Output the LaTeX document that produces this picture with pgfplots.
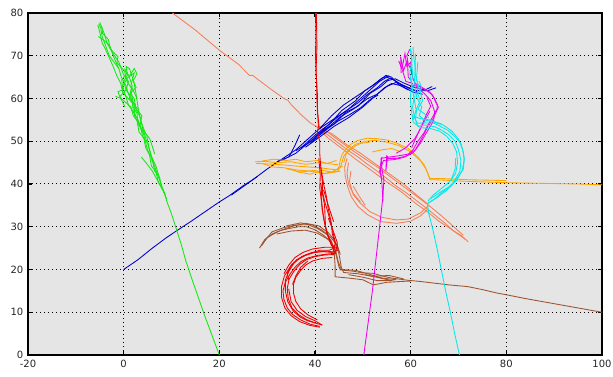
\documentclass[border=0pt]{standalone}
\usepackage{pgfplots}
\pgfplotsset{compat=1.18}
\usepackage{fontspec}
\setmainfont{DejaVu Sans}
\definecolor{cgreen}{RGB}{20,232,20}
\definecolor{cblue}{RGB}{0,0,210}
\definecolor{csalmon}{RGB}{245,128,88}
\definecolor{cred}{RGB}{240,0,0}
\definecolor{cbrown}{RGB}{160,82,45}
\definecolor{cmag}{RGB}{240,0,240}
\definecolor{ccyan}{RGB}{0,235,235}
\definecolor{corange}{RGB}{255,165,0}
\definecolor{bg}{RGB}{229,229,229}
\begin{document}
\begin{tikzpicture}
\begin{axis}[
  scale only axis, width=430.5pt, height=256.5pt,
  xmin=-20, xmax=100, ymin=0, ymax=80,
  xtick={-20,0,...,100}, ytick={0,10,...,80},
  grid=major, major grid style={dash pattern=on 0.75pt off 2.25pt, black, line width=0.75pt},
  axis background/.style={fill=bg},
  axis line style={line width=1.3pt, black},
  tick style={black, line width=1pt}, major tick length=3pt, tick align=inside,
  ticklabel style={font=\fontsize{7.5}{8}\selectfont, text=black!85},
  /pgf/number format/assume math mode=true,
  every axis plot/.append style={line width=0.65pt, no marks},
]
\coordinate (bl) at (rel axis cs:0,0);
\coordinate (tr) at (rel axis cs:1,1);
% brown
\addplot[cbrown] coordinates {(28.4,25) (29.5,27) (31.2,28.4) (33,29.2) (34.7,29.6) (36.5,30) (38.2,30) (40,29.3) (41.8,28) (43,26.8) (43.9,25.3) (44.5,23) (45,20.7) (45.3,19.9) (48,19.6) (50,19.2) (52.2,19.1) (54,18.5) (56,18) (59.3,17.5) (62,17.2) (65,16.8) (68,16.4) (71.9,16) (75,15.3) (78,14.5) (80.4,14) (84,13.2) (88,12.4) (92,11.6) (96,10.8) (100,10)};
\addplot[cbrown] coordinates {(29,26) (31,28.8) (33.5,29.8) (36,30.4) (38.5,30.5) (40.5,29.6) (42.5,28.2) (43.5,26.5) (44,24) (44.2,21) (44.2,18.3) (47,18) (50,17.6) (52.2,16.4) (55,17) (58,17.2) (60,17.3)};
\addplot[cbrown] coordinates {(32,28.3) (35,29) (38,29.2) (40.5,28.5) (42.8,27) (44.2,25) (44.8,22) (45.5,20) (48.5,19.8) (51,19) (54,18) (57,17.6)};
\addplot[cbrown] coordinates {(34,30.2) (37,30.9) (39.5,30.4) (41.5,29.2) (43.2,27.6) (44.6,25.8) (45.3,23.5)};
\addplot[cbrown] coordinates {(28.8,25.5) (30,27.5) (32.5,29) (35.5,30.2) (38,30.8) (40.8,30.2) (42.8,28.6) (44,27) (44.8,24.8) (45.2,22.5) (45.5,20.5) (46,19.3) (49,19) (52,18.4) (55.5,18.6) (58.5,17.8)};
\addplot[cbrown] coordinates {(47,18.8) (50,18.2) (53,17.4) (56,17.4) (50.5,18.8) (54,17.9)};
% salmon
\addplot[csalmon] coordinates {(10.2,80) (15,76) (20,71.3) (24,68) (26.3,65.4) (27,65.4) (28,64.5) (31,62) (33.5,60) (34.3,59.6) (35,58.6) (37,56.3) (39,54.3) (41,53) (43,51.2) (45,49.5) (47,47.8) (49,46.3) (51,44.6) (53,43) (55,41.3) (57,39.5) (59,38) (61,36.3) (63,34.6) (65,32.8) (67,31) (69,29) (70.5,28) (72,26.5)};
\addplot[csalmon] coordinates {(41,53.5) (44,51) (47,48.5) (50,46.2) (53,44) (56,41.5) (59,39) (62,36.5) (64,34.8) (66.5,32.5) (68.5,30.5) (71,28)};
\addplot[csalmon] coordinates {(41,52.5) (43,50.5) (46,48) (48.5,45.8) (52,43) (55,40.5) (58,38.2) (61,35.5) (63.5,33.5) (66,31.2) (68,29.8) (70,28.2) (71.5,27)};
\addplot[csalmon] coordinates {(40.5,53.2) (43.5,51.8) (46.5,49.3) (49.5,47.2) (52.5,44.8) (55.5,42.4) (58.5,40) (61.5,37.2) (63.5,35.4)};
\addplot[csalmon] coordinates {(46.7,46) (46.2,44) (46.3,42) (46.8,39.5) (47.6,37) (49,34.7) (51,32.8) (53.7,31.2) (57,30.8) (60,31.3) (62,32.5) (63.5,34)};
\addplot[csalmon] coordinates {(47.5,43) (47.2,40.5) (48,37.5) (49.5,35.5) (51.5,33.5) (54,32.2) (57,31.6) (59.5,31.8) (62,33.2) (63.8,35)};
\addplot[csalmon] coordinates {(48,39.5) (49.2,37.2) (50.5,35)};
\addplot[csalmon] coordinates {(47,45) (46.7,42.5) (47,40) (48,37.8) (49.5,35.8)};
% blue
\addplot[cblue] coordinates {(0,20) (3,22.3) (6,25) (9,27.5) (11,29) (14,31.2) (17,33.5) (20,35.8) (22,37.2) (25,39.6) (27,41) (30,43.5) (32,45) (34,46.5) (36,48) (38,50) (40,52) (41,53) (43,54.5) (45,56) (47,57.5) (49,59) (51,61) (53,62.5) (54.5,64) (55.8,64.8) (57,64) (58.5,63) (60.4,62) (62,61.8) (63.5,61.8) (65.3,62.5)};
\addplot[cblue] coordinates {(22.5,37.4) (25.5,39.8) (28,41.8)};
\addplot[cblue] coordinates {(33,45.5) (36,47.2) (39,50) (41,52) (44,55) (47,57.5) (50,60.5) (52,62.5) (53.5,64) (55,65) (56.5,64.3) (58,63.2) (60,62.4) (61.5,61.5)};
\addplot[cblue] coordinates {(38,48.6) (41,51) (44,53.5) (47,55.5) (50,58) (52.5,60.5) (54.5,62.5) (56,63.5) (58,63) (60.5,61.5) (62.5,61)};
\addplot[cblue] coordinates {(34.5,46.2) (35.8,49) (36.8,51.5)};
\addplot[cblue] coordinates {(41,53) (43.5,56) (46,58.5) (48,60) (50,61.5) (52,63) (54,64.8) (55.5,65.3)};
\addplot[cblue] coordinates {(40,51) (42.5,53) (45.3,55.7) (48,57.5) (51,60) (53,61) (55,62.8) (57,63.8) (59,62.8)};
\addplot[cblue] coordinates {(31,44.3) (32.6,45.6) (34,46)};
\addplot[cblue] coordinates {(36,47.8) (39,49.8) (42,52.8) (44,54) (46.5,56.8) (49,58.2) (51.5,61.2) (53.8,62.8) (55.2,64.2) (56.8,64.6) (58.6,63.6) (60.8,62.6) (63,62) (64.5,62.8)};
\addplot[cblue] coordinates {(37,48.4) (40.2,51.6) (43.2,54.2) (45.6,57.2) (48.4,59.4) (50.4,61.8) (52.8,63.6) (54.8,65.4) (56,65) (57.5,63.2) (59.5,62)};
\addplot[cblue] coordinates {(39,49.5) (41.8,52.2) (44.5,54.5) (47.2,56.2) (49.5,57.8) (51.8,60) (53.2,60.8)};
% orange
\addplot[corange] coordinates {(100.4,39.8) (95,40) (90,40.1) (85,40.2) (80,40.3) (75,40.5) (70,40.7) (67,40.9) (65,41) (64,41) (63.6,42.5) (62.8,44.5) (61.5,46.3) (59.5,48.3) (57,49.6) (55,50.3) (53,50.6) (50.9,50.7) (49,50.2) (47.5,49.3) (46.5,48.2) (45.7,47) (45.3,45.6) (45,44) (44.6,43.3) (43,43.5) (41,43.8) (38.5,44) (36,44.2) (33,44.5) (30,44.7) (27.7,44.8)};
\addplot[corange] coordinates {(80,40.8) (72,41) (66,41.3) (64,41.3) (63.2,43.5) (62,45.5) (60,47.5) (57.5,49) (55,49.8) (52.5,50.2) (50.5,50) (48.5,49.3) (47,48) (46,46.5) (45.5,44.5) (44.8,43) (42,42.5) (39,43) (36,43.3) (33.5,43.8) (31,44) (29,44.8)};
\addplot[corange] coordinates {(44.8,44.5) (41,45) (38,44.6) (35,45.2) (32,45) (29.5,45.3) (27.5,45.2)};
\addplot[corange] coordinates {(45.3,43) (42,42.4) (40,43.2) (37,42.8) (34,43.6)};
\addplot[corange] coordinates {(52,47.5) (54,48) (56,48.3) (58,47.5)};
\addplot[corange] coordinates {(44.5,45.5) (42.5,44.8) (40.5,45.5) (38,45.2) (36,45.8) (34,45.5) (31.5,45.8) (29,45.4)};
\addplot[corange] coordinates {(45.8,44.2) (43.5,42.8) (41.5,43.2) (39,42.3) (36.5,42.8) (35,43.5)};
\addplot[corange] coordinates {(46,45) (46.5,47) (47.8,48.5) (49.5,49.5) (51.5,49.8)};
% magenta
\addplot[cmag] coordinates {(50.2,0) (50.8,5) (51.4,10) (52,15) (52.5,20) (53,25) (53.5,30) (53.8,33) (54.2,37) (54.4,41) (54,43.5) (53.8,46) (55.5,46.3) (57.5,46.6) (59.5,47) (60.5,48) (61.5,50) (62.8,52) (63.7,54) (64.5,55.5) (65.5,57.5) (65.6,58.5) (65,60) (64,61.5) (62.5,62.5) (61,63.5) (60.5,64.5) (60.2,66.5) (59.5,68) (59.2,70) (59.8,71.5)};
\addplot[cmag] coordinates {(54,41) (53.5,43) (54.3,45.5) (56.5,45.7) (58.5,46.2) (60.5,47.3) (62,49.5) (63.3,52) (64.8,54.8) (65,57) (64.2,59.5) (63,61) (61.5,62.5) (60.7,63.5)};
\addplot[cmag] coordinates {(58,66) (57.9,69.8) (58.5,66.5) (59.3,69) (59.5,65) (60,64.3)};
\addplot[cmag] coordinates {(54.2,36) (54,40) (53.6,44) (54,46.3)};
\addplot[cmag] coordinates {(55,46.8) (54.8,43) (55.2,46.5)};
\addplot[cmag] coordinates {(60.5,63.5) (59,64) (58.3,66.5) (57.5,68.8) (58.2,67) (58.8,70.5) (59.2,67.5) (60,68.5) (60.2,65.5)};
\addplot[cmag] coordinates {(55,46) (57,46) (59,46.5) (61,48) (62.5,51) (63.6,53.5) (64.6,55) (65.2,56.5) (65.8,58) (65.2,59.2) (64.6,60.8) (63.2,62) (61.8,62.8) (60.2,63.2)};
\addplot[cmag] coordinates {(60.2,48.5) (61.2,51) (62.2,53.5) (63.4,56.5) (64.2,58.2) (63.4,60.2)};
\addplot[cmag] coordinates {(57,47.2) (59,48.5) (60.8,50.5) (62,52.8) (63,55) (64,57)};
% cyan
\addplot[ccyan] coordinates {(70.2,0) (69.2,5) (68.3,10) (67.3,15) (66.4,20) (65.5,25) (64.5,30) (63.8,33) (63.5,35.4) (65,36.5) (66.5,38) (68.4,39.4) (69.8,41.5) (71,43.5) (71.2,45.5) (71,47.5) (70.5,49.5) (69.3,51) (67.7,52.6) (66,53.6) (64.9,54.2) (63,54.3) (61.4,54.2) (60.8,55.5) (60.4,58) (60.7,60) (60.4,62) (60.2,64) (60.4,66) (60.2,68.5) (60,71.3)};
\addplot[ccyan] coordinates {(63.5,35.4) (65.5,36.8) (67.5,38.5) (69,40.5) (70.3,43) (70.5,45.5) (70,48) (69.3,50) (68,51.5) (66.5,52.6) (65,53.4) (63,53.8) (61.5,53.5) (61,55) (61.2,57) (60.8,59.5) (61,62) (60.8,64.5) (61,67) (60.6,70) (60.5,72)};
\addplot[ccyan] coordinates {(68.5,41) (69.3,43.5) (69.4,46)};
\addplot[ccyan] coordinates {(60.5,55) (61.2,57.5) (62,59.5) (61.5,61) (62.3,62.5) (61.8,64)};
\addplot[ccyan] coordinates {(60.3,56) (62,55.3) (64,55) (66.5,54)};
\addplot[ccyan] coordinates {(60,71.8) (60.3,69) (59.8,66) (60.2,63) (59.9,60) (60.2,57) (60.5,54.5) (62,53.2) (64,53) (66,52.4) (67.5,51.2) (68.8,49.5) (69.6,47.5) (69.8,45) (69.4,42.5) (68.2,40.6) (66.5,39) (64.8,37.5) (63.6,36)};
\addplot[ccyan] coordinates {(61,70.5) (60.9,66) (61.6,63) (61.2,60.5) (62.3,58) (61.8,56) (62.8,55) (64.5,54.6) (66.8,53.8) (68.6,52.4) (70,50.5) (70.8,48.2) (71.2,46) (70.8,43.2) (69.6,40.8) (67.8,39.2) (65.8,37.8) (64.2,36.6)};
\addplot[ccyan] coordinates {(61.5,68.5) (61.2,64.5) (62,61.5) (62.5,59.5) (61.5,57.5) (62.8,56.5) (63.8,55.5)};
% red
\addplot[cred] coordinates {(40.1,80) (40.2,75) (40.1,70) (40.3,65) (40.4,60) (40.6,56) (40.7,53.5) (40.5,52) (41,50) (41,47) (41.2,44) (41.5,41) (41.6,38) (42,36) (42.8,33) (43.5,30) (44,27.5) (44.5,25) (44.3,23.8) (42.5,23.6) (40.5,23.3) (38.5,22.7) (37,21.8) (35.8,20.5) (34.7,18.8) (33.8,17) (33.3,15) (33.5,13) (34.2,11) (35.3,9.5) (37,8.2) (39,7.2) (41,6.7)};
\addplot[cred] coordinates {(40.3,80) (40.4,72) (40.2,66) (40.5,61) (40.5,57) (40.9,53)};
\addplot[cred] coordinates {(41.6,41) (41.3,37) (41.5,34) (42,31) (42.5,28.5) (43.3,26.5) (44,25) (43,24.5) (41,24.5) (39,23.8) (37.2,23) (35.6,21.5) (34.5,19.5) (33.8,17.5) (33.8,15) (34.3,12.5) (35.5,10.2) (37,8.8) (38.5,8) (40,7.5)};
\addplot[cred] coordinates {(41.8,38.6) (42.5,36) (43.2,33.5) (43.9,31.2)};
\addplot[cred] coordinates {(42.8,32) (43.8,29) (44.6,26.5) (44.8,24.5) (43.5,24) (41.5,24.2) (39.5,24) (37.8,23.3) (36.2,22.3) (35,21) (34.2,19) (34.5,17.5)};
\addplot[cred] coordinates {(38.5,22) (37,20.5) (36,18.5) (35.3,16.5)};
\addplot[cred] coordinates {(34.5,15.5) (35,12.5) (36.2,10.5) (38,9) (40,8) (41.5,7)};
\addplot[cred] coordinates {(41.2,40) (42,35) (42.2,30) (43,27) (43.8,24.8)};
\addplot[cred] coordinates {(44.3,24) (42.5,24.3) (40,24) (38,23.3) (36.2,22.2) (34.8,20.6) (33.6,18.5) (33,16) (33,13.5) (33.7,11) (35,9.2) (36.8,7.8) (39,6.9) (41,6.5)};
\addplot[cred] coordinates {(44,23.5) (42,23.4) (40,23) (38.2,22.3) (36.8,21.2) (35.6,19.6) (34.6,17.8) (34.2,15.6) (34.4,13.2) (35.2,11) (36.5,9.5) (38.2,8.3) (40,7.5) (41.5,7)};
\addplot[cred] coordinates {(43.6,22.8) (41.5,22.6) (39.5,22) (38,21) (37,19.8) (36,18.2) (35.5,16.5) (35.5,14.5) (36,12.5) (37,10.8) (38.5,9.4) (40.5,8.2)};
\addplot[cred] coordinates {(44.5,25.2) (42,25.2) (39.5,24.8) (37.5,24) (35.8,22.8) (34.5,21) (33.5,19)};
\addplot[cred] coordinates {(41.2,44) (41.8,40) (42.4,37) (42.8,34) (43.4,31) (43.6,28.5) (44.2,26) (43.8,24.2)};
\addplot[cred] coordinates {(40.8,46) (41.1,42) (41,39) (41.4,35.5) (41.8,32) (42.3,29.5) (42.8,27.5) (43.5,25.5)};
% green
\addplot[cgreen] coordinates {(20,0) (17,9) (14.5,17) (13,22) (12,26) (11,29.5) (10,33) (9,36) (8.5,38) (7.8,40) (7,42.5) (6.2,45) (5.5,47.5) (5,49.5) (4,51) (3.6,53) (3,55) (2,57) (1.8,59.5) (1,61) (0.5,63) (-0.5,65) (-1,67) (-2,69.5) (-2.5,71) (-3.5,73) (-4,75) (-5,77.8)};
\addplot[cgreen] coordinates {(8.7,37.5) (8,39) (7.5,41.5) (6.5,43) (6,45.5) (5,48) (4.5,50) (4,52.5) (3,54) (2.8,56.5) (2,58) (1.5,60.5) (0.5,62) (1,64) (0,65.5) (-0.5,67) (-1,68.5) (-2.2,70.5) (-3,72.5) (-4,73.5) (-5.3,74.5)};
\addplot[cgreen] coordinates {(3.7,46.3) (5,44.5) (6,43) (7,41) (7.8,39.5)};
\addplot[cgreen] coordinates {(4,52) (3,54.5) (2,56) (1.5,58) (0.5,59) (-0.5,60) (-1.7,60.5)};
\addplot[cgreen] coordinates {(6.5,47) (5.5,50.5) (4.5,52) (3.5,55) (3,58) (2.6,61) (2.2,63.5) (1.8,65) (1.2,67) (0.5,67.5) (0.8,65.5) (0,64) (0.5,62) (-0.8,60.5) (0.3,58)};
\addplot[cgreen] coordinates {(-1,67) (-3,70) (-4.5,74.5) (-4.8,76.5) (-5.2,77.5)};
\addplot[cgreen] coordinates {(2.5,56) (1,58.5) (0.3,61) (-0.2,63) (0.8,64.8) (2.2,66) (1.5,63) (2.8,60)};
\addplot[cgreen] coordinates {(9,36.5) (8.2,38.5) (7.2,40.5) (6.8,42.8) (5.8,44.2) (5.4,46.8) (4.6,48.5) (4.2,50.8) (3.2,52.2) (2.8,54.8) (2.2,56.2) (2.4,58.6) (1.2,60) (1.6,62.4) (0.6,64.2) (0.2,66.4) (-1.4,68.4) (-1.2,69.8) (-2.8,71.6) (-3.2,73.8) (-4.4,75.2) (-4.6,77)};
\addplot[cgreen] coordinates {(7.6,41) (6.8,44) (5.8,46.5) (5.2,49) (4.8,51.5) (3.4,53.5) (3.8,56) (2.6,57.5) (2.2,60) (1.4,61.2) (1.8,63) (1,65.5) (0.2,67) (0.6,65.8) (-0.4,64.4) (-0.2,62) (-1.2,61.6) (-0.6,59.8)};
\addplot[cgreen] coordinates {(3,57.5) (1.8,59) (0.8,60.2) (-0.2,61.5) (-0.6,63.5) (-1.5,65.5) (-2.2,67.5) (-3,69.5) (-3.8,71.5) (-4.5,73) (-5,75.5) (-5.4,77.2)};
\addplot[cgreen] coordinates {(4.8,50) (4,53) (3.4,55.8) (2.8,57) (2,59) (1.6,61.5) (2.6,62.6) (2,64.2) (2.8,65.8) (2.2,67) (1.2,65.2)};
\end{axis}
\pgfresetboundingbox
\path ([shift={(-21pt,-16.5pt)}]bl) rectangle ([shift={(8.25pt,9.75pt)}]tr);
\end{tikzpicture}
\end{document}
